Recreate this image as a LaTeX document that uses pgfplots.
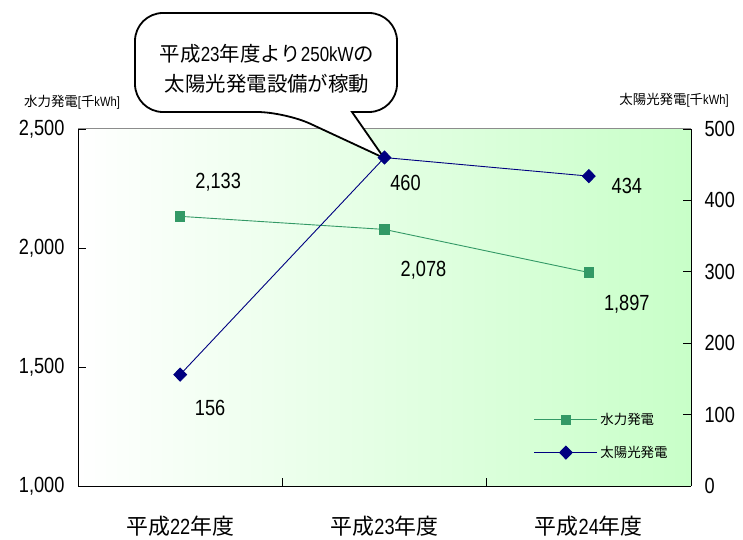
\documentclass[border=0pt]{standalone}
\usepackage{fontspec}
\setmainfont{Liberation Sans}[FakeStretch=0.83]
\newfontfamily\jp{Noto Sans CJK JP}
\usepackage{pgfplots}
\pgfplotsset{compat=1.18}

\definecolor{hydro}{RGB}{51,153,102}
\definecolor{solar}{RGB}{0,0,128}
\definecolor{bgright}{RGB}{200,255,200}
\definecolor{topline}{RGB}{140,140,140}

\newcommand{\J}[1]{{\jp #1}}

\pgfplotsset{
  hydrostyle/.style={color=hydro, line width=0.9bp, mark=square*, mark size=4.7bp,
    mark options={solid, fill=hydro, draw=hydro}},
  solarstyle/.style={color=solar, line width=0.9bp, mark=diamond*, mark size=6.5bp,
    mark options={solid, fill=solar, draw=solar, xscale=1.3}},
  base/.style={
    at={(78bp,54bp)}, anchor=south west,
    scale only axis, width=613bp, height=357bp,
    xmin=-0.5, xmax=2.5,
    tick align=inside,
    major tick length=8bp, minor tick length=8bp,
    tick style={black, line width=0.8bp},
    axis line style={black, line width=1bp},
    /pgf/number format/assume math mode=true,
    ticklabel style={font=\fontsize{22}{26}\selectfont},
  },
}

\begin{document}
\begin{tikzpicture}
\useasboundingbox (0,0) rectangle (743bp,540bp);

% plot area background
\shade[left color=white, right color=bgright] (78bp,54bp) rectangle (691bp,411bp);
\draw[topline, line width=1bp] (78bp,411bp) -- (691bp,411bp);

% callout
\draw[black, line width=1.8bp, fill=white]
  (352bp,428bp) [rounded corners=28bp] -- (397bp,428bp) -- (397bp,527bp)
  -- (135bp,527bp) -- (135bp,428bp) -- (285bp,428bp) [sharp corners]
  -- (384bp,382bp) -- cycle;
\node[font=\fontsize{20.5}{24}\selectfont, align=center] at (267bp,471bp)
  {\J{平成}23\J{年度より}250kW\J{の}\\[6bp]\J{太陽光発電設備が稼動}};

% axis titles
\node[font=\fontsize{13.5}{16}\selectfont] at (72bp,438bp) {\J{水力発電}[\J{千}kWh]};
\node[font=\fontsize{13.5}{16}\selectfont] at (674bp,440bp) {\J{太陽光発電}[\J{千}kWh]};

% hydro power (left axis)
\begin{axis}[base,
  ymin=1000, ymax=2500,
  axis x line*=bottom, axis y line*=left,
  xtick={0,1,2},
  xticklabels={\J{平成}22\J{年度},\J{平成}23\J{年度},\J{平成}24\J{年度}},
  major x tick style={draw=none},
  minor xtick={0.5,1.5},
  xticklabel style={font=\fontsize{22}{26}\selectfont, yshift=-26bp},
  ytick={1000,1500,2000,2500},
  yticklabel style={/pgf/number format/1000 sep={,}, xshift=-10bp},
  clip=false,
]
\addplot[hydrostyle] coordinates {(0,2133) (1,2078) (2,1897)};
\node[font=\fontsize{22}{26}\selectfont, xshift=38bp, yshift=34bp] at (axis cs:0,2133) {2,133};
\node[font=\fontsize{22}{26}\selectfont, xshift=39bp, yshift=-41bp] at (axis cs:1,2078) {2,078};
\node[font=\fontsize{22}{26}\selectfont, xshift=38bp, yshift=-32bp] at (axis cs:2,1897) {1,897};
\end{axis}

% solar power (right axis)
\begin{axis}[base,
  ymin=0, ymax=500,
  axis x line=none, axis y line*=right,
  ytick={0,100,200,300,400,500},
  yticklabel style={xshift=10bp},
  clip=false,
  legend cell align=left,
  legend image code/.code={
    \draw[mark repeat=2, mark phase=2] plot coordinates {(0bp,0bp) (31.5bp,0bp) (63bp,0bp)};
  },
  legend style={at={(axis description cs:0.7435,0.1395)}, anchor=west,
    draw=none, fill=none, inner sep=0pt, row sep=15bp,
    font=\fontsize{13.5}{16}\selectfont,
    nodes={inner sep=2.5bp}},
]
\addlegendimage{hydrostyle}
\addlegendentry{\J{水力発電}}
\addplot[solarstyle] coordinates {(0,156) (1,460) (2,434)};
\addlegendentry{\J{太陽光発電}}
\node[font=\fontsize{22}{26}\selectfont, xshift=30bp, yshift=-33bp] at (axis cs:0,156) {156};
\node[font=\fontsize{22}{26}\selectfont, xshift=21bp, yshift=-25bp] at (axis cs:1,460) {460};
\node[font=\fontsize{22}{26}\selectfont, xshift=38bp, yshift=-10bp] at (axis cs:2,434) {434};
\end{axis}
\end{tikzpicture}
\end{document}
